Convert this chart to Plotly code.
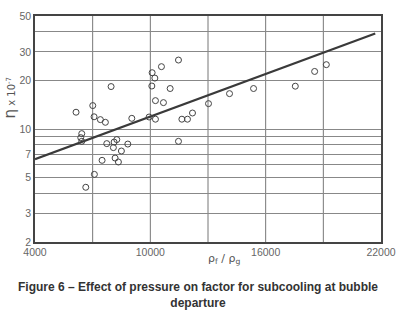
import plotly.graph_objects as go

# data
x_pts = [6135, 7005, 7073, 7401, 7662, 7958, 9036, 9937, 10266, 10094, 10234, 10078,
         10266, 10578, 10682, 11031, 11464, 11641, 11932, 12193,
         13026, 14120, 15370, 17542, 18547, 19156,
         6432, 6380, 6432, 7734, 8115, 8255, 8078, 8828, 8495, 7490, 8167, 8339,
         7089, 6641, 11464]
y_pts = [12.7, 13.96, 11.9, 11.43, 11.0, 18.3, 11.64, 11.86, 11.5, 22.3, 20.65, 18.45,
         14.98, 24.3, 14.56, 17.8, 26.7, 11.5, 11.5, 12.56,
         14.35, 16.55, 17.8, 18.4, 22.7, 25.0,
         9.36, 8.84, 8.39, 8.12, 8.3, 8.6, 7.67, 8.07, 7.31, 6.4, 6.61, 6.25,
         5.24, 4.36, 8.39]
fit_x = [4000, 21700]
fit_y = [6.5, 39.0]

x_ticks = [4000, 10000, 16000, 22000]
x_tick_labels = ["4000", "10000", "16000", "22000"]
x_grid = [7000, 10000, 13000, 16000, 19000]
y_grid = [2, 3, 4, 5, 6, 7, 8, 9, 10, 20, 30, 40, 50]
y_labels = ["2", "3", "", "5", "", "7", "", "", "10", "20", "30", "", "50"]

fig = go.Figure()
fig.add_trace(go.Scatter(x=fit_x, y=fit_y, mode="lines",
                         line=dict(color="#3a3a3a", width=2.2), showlegend=False))
fig.add_trace(go.Scatter(x=x_pts, y=y_pts, mode="markers",
                         marker=dict(symbol="circle-open", size=6, color="#444",
                                     line=dict(width=1)), showlegend=False))

for gx in x_grid:
    fig.add_shape(type="line", xref="x", yref="paper", x0=gx, x1=gx, y0=0, y1=1,
                  line=dict(color="#777", width=1), layer="below")

tick_font = dict(family="Liberation Sans", size=10.5, color="#666")
fig.update_xaxes(range=[4000, 22000], tickvals=x_ticks, ticktext=x_tick_labels, showgrid=False,
                 showline=True, linecolor="#444", linewidth=1.5, mirror=True,
                 ticks="", tickfont=tick_font, zeroline=False, automargin=False)
fig.update_yaxes(type="log", range=[0.30103, 1.69897], tickvals=y_grid, ticktext=y_labels,
                 showgrid=True, gridcolor="#888", gridwidth=1,
                 showline=True, linecolor="#444", linewidth=1.5, mirror=True,
                 ticks="", tickfont=tick_font, zeroline=False, automargin=False)

fig.add_annotation(text="<span style='font-size:15px'>η</span><span style='font-size:10px'> x 10<sup>-7</sup></span>",
                   xref="paper", yref="paper", x=-0.072, y=0.64, xanchor="center", yanchor="middle",
                   showarrow=False, textangle=-90, font=dict(family="DejaVu Sans", color="#555"))
fig.add_annotation(text="ρ<sub>f</sub> / ρ<sub>g</sub>", xref="paper", yref="paper",
                   x=0.545, y=-0.115, showarrow=False,
                   font=dict(family="DejaVu Sans", size=11, color="#555"))
fig.add_annotation(text="<b>Figure 6 – Effect of pressure on factor for subcooling at bubble<br>departure</b>",
                   xref="paper", yref="paper", x=0.47, y=-0.16, yanchor="top", showarrow=False,
                   font=dict(family="Liberation Sans", size=12, color="#333"))

fig.update_layout(width=401, height=315, margin=dict(l=35, r=20, t=16, b=73),
                  plot_bgcolor="white", paper_bgcolor="white", hovermode=False)
# remove the default page-body margin so the figure sits at the window's top-left corner
fig.write_html("out.html", config={"displayModeBar": False},
               post_script="document.body.style.margin='0px';")
